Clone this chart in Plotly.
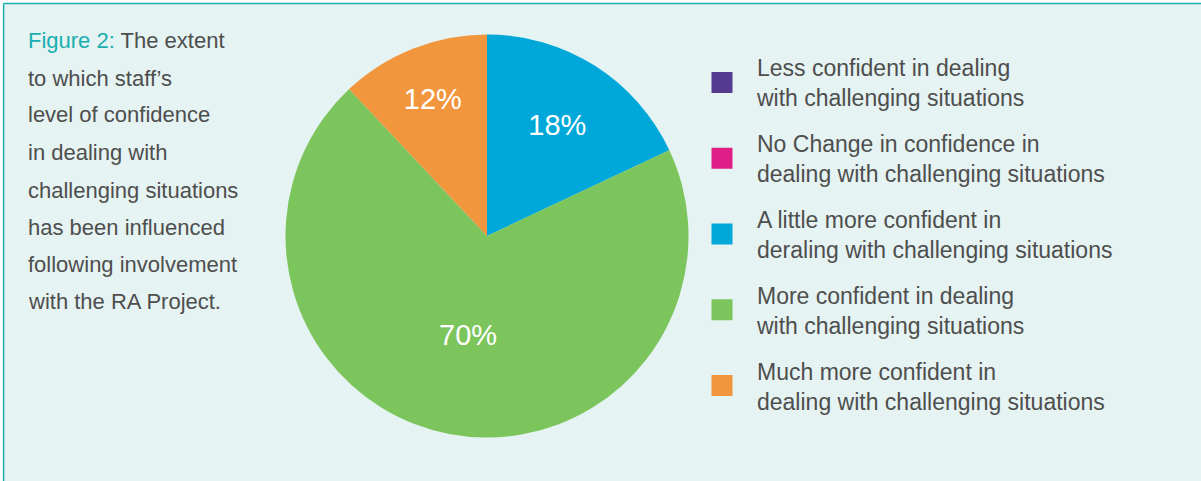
import plotly.graph_objects as go

W, H = 1201, 481

categories = [
    "Less confident in dealing<br>with challenging situations",
    "No Change in confidence in<br>dealing with challenging situations",
    "A little more confident in<br>deraling with challenging situations",
    "More confident in dealing<br>with challenging situations",
    "Much more confident in<br>dealing with challenging situations",
]
values = [0, 0, 18, 70, 12]
colors = ["#553a91", "#df1f87", "#00a8da", "#7cc55c", "#f2963e"]

caption_lines = [
    '<span style="color:#1aaeb0">Figure 2:</span> The extent',
    "to which staff\u2019s",
    "level of confidence",
    "in dealing with",
    "challenging situations",
    "has been influenced",
    "following involvement",
    "with the RA Project.",
]

BG = "#e5f3f2"
TEAL = "#1aaeb0"
TXT = "#4e4e4e"
FONT = "Liberation Sans, Arial, sans-serif"

fig = go.Figure()

# pie
cx, cy, r = 487, 236, 201.5
fig.add_trace(go.Pie(
    labels=categories, values=values, sort=False, direction="clockwise",
    rotation=0, marker=dict(colors=colors, line=dict(width=0)),
    textinfo="percent", textposition="inside", insidetextorientation="horizontal",
    textfont=dict(color="white", size=29, family=FONT),
    showlegend=False, hoverinfo="label+percent",
    domain=dict(x=[(cx - r) / W, (cx + r) / W], y=[(H - cy - r) / H, (H - cy + r) / H]),
))

# legend entries
for i, (lab, col) in enumerate(zip(categories, colors)):
    fig.add_trace(go.Scatter(
        x=[None], y=[None], mode="markers", name=lab, legendgroup=f"g{i}",
        marker=dict(symbol="square", size=16, color=col, line=dict(color=col, width=5)),
        showlegend=True,
    ))

shapes = [
    dict(type="rect", xref="paper", yref="paper", x0=3.5 / W, x1=1.05, y0=-0.05, y1=(H - 3.5) / H,
         fillcolor=BG, line=dict(width=0), layer="below"),
    dict(type="line", xref="paper", yref="paper", x0=3.5 / W, x1=1.0, y0=(H - 3.6) / H, y1=(H - 3.6) / H,
         line=dict(color=TEAL, width=1.5)),
    dict(type="line", xref="paper", yref="paper", x0=3.6 / W, x1=3.6 / W, y0=0, y1=(H - 3.6) / H,
         line=dict(color=TEAL, width=1.5)),
]

line_y = [41, 78, 115, 152, 190, 227, 264, 301]
annotations = []
for t, yy in zip(caption_lines, line_y):
    annotations.append(dict(
        text=t, xref="paper", yref="paper", x=26 / W, y=(H - yy) / H,
        xanchor="left", yanchor="middle", showarrow=False,
        font=dict(family=FONT, size=22, color=TXT),
    ))

fig.update_layout(
    width=W, height=H, margin=dict(l=0, r=0, t=0, b=0),
    paper_bgcolor="white", plot_bgcolor="rgba(0,0,0,0)",
    xaxis=dict(visible=False), yaxis=dict(visible=False),
    shapes=shapes, annotations=annotations,
    legend=dict(
        x=687 / W, y=(H - 46) / H, xanchor="left", yanchor="top",
        bgcolor="rgba(0,0,0,0)", itemwidth=60, tracegroupgap=13,
        font=dict(family=FONT, size=23, color=TXT),
        itemclick=False, itemdoubleclick=False,
    ),
)

fig.write_html(
    "out.html",
    config={"displayModeBar": False},
    post_script="document.body.style.margin='0';document.documentElement.style.margin='0';",
)
